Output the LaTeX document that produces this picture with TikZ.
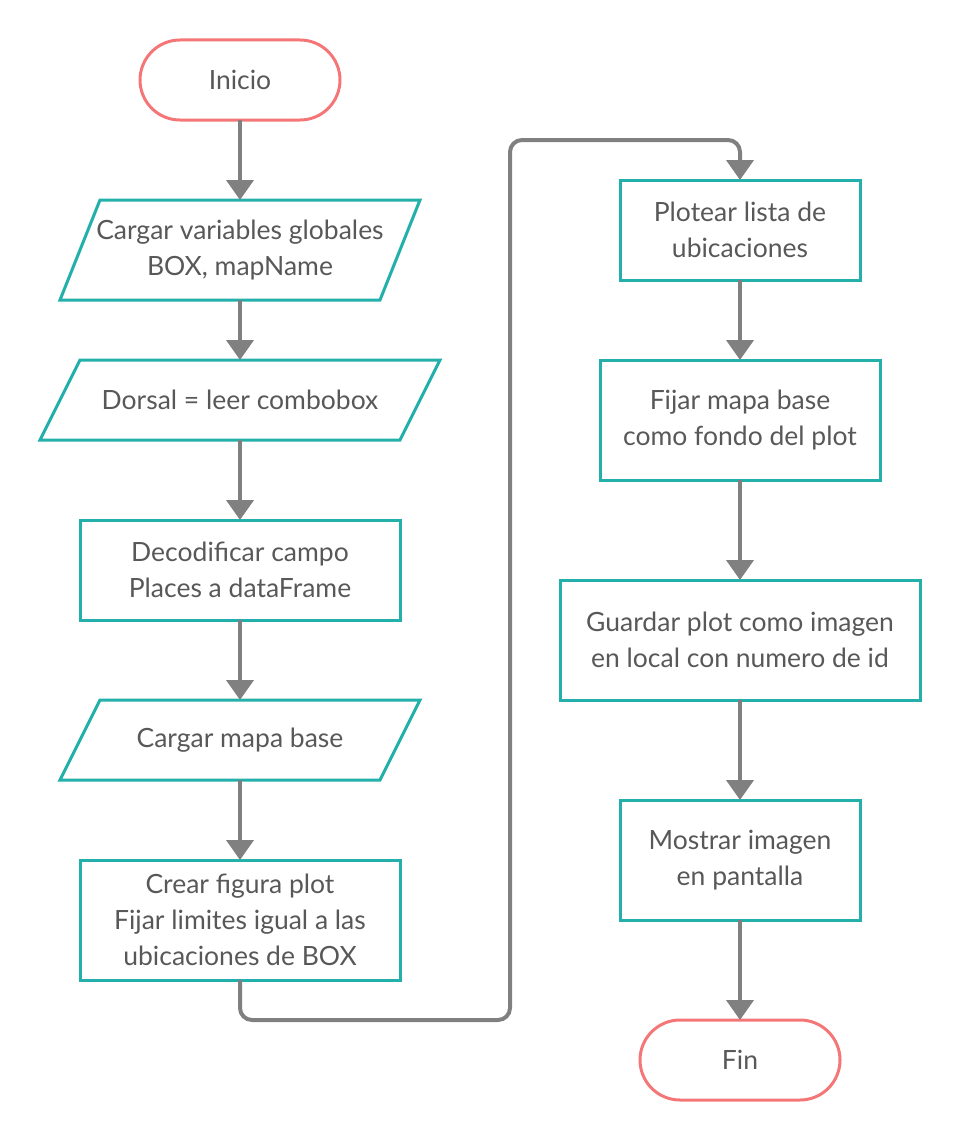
\documentclass[tikz,border=0pt]{standalone}
\usepackage{fontspec}
\setmainfont{Lato}
\usetikzlibrary{arrows.meta}
\definecolor{teal2}{RGB}{35,176,170}
\definecolor{salmon}{RGB}{244,118,118}
\definecolor{conn}{RGB}{128,128,128}
\definecolor{txt}{RGB}{88,88,88}
\begin{document}
\begin{tikzpicture}[x=1pt,y=-1pt,
  base/.style={inner sep=0pt,outer sep=0pt,align=center,text=txt,
    font=\fontsize{26.5}{36}\selectfont},
  term/.style={base,draw=salmon,line width=3pt,rounded corners=40pt,
    minimum width=200pt,minimum height=80pt},
  proc/.style={base,draw=teal2,line width=3pt,minimum height=#1},
  io/.style={base,minimum height=#1},
  pgram/.style={draw=teal2,line width=3pt,line join=miter},
  arrow/.style={draw=conn,line width=4pt,-{Triangle[width=27pt,length=20pt]}},
]
\useasboundingbox (0,0) rectangle (960,1140);
% left column
\node[term] (inicio) at (240,80) {Inicio};
\node[io=100pt,minimum width=320pt] (cv) at (240,250) {Cargar variables globales\\BOX, mapName};
\draw[pgram] ([xshift=20pt]cv.north west) -- ([xshift=20pt]cv.north east) -- ([xshift=-20pt]cv.south east) -- ([xshift=-20pt]cv.south west) -- cycle;
\node[io=80pt,minimum width=360pt] (dorsal) at (240,400) {Dorsal = leer combobox};
\draw[pgram] ([xshift=20pt]dorsal.north west) -- ([xshift=20pt]dorsal.north east) -- ([xshift=-20pt]dorsal.south east) -- ([xshift=-20pt]dorsal.south west) -- cycle;
\node[proc=100pt,minimum width=320pt] (deco) at (240,570) {Decodificar campo\\Places a dataFrame};
\node[io=80pt,minimum width=320pt] (mapa) at (240,740) {Cargar mapa base};
\draw[pgram] ([xshift=20pt]mapa.north west) -- ([xshift=20pt]mapa.north east) -- ([xshift=-20pt]mapa.south east) -- ([xshift=-20pt]mapa.south west) -- cycle;
\node[proc=120pt,minimum width=320pt] (crear) at (240,920) {Crear figura plot\\Fijar limites igual a las\\ubicaciones de BOX};
% right column
\node[proc=100pt,minimum width=240pt] (plotear) at (740,230) {Plotear lista de\\ubicaciones};
\node[proc=120pt,minimum width=280pt] (fijar) at (740,420) {Fijar mapa base\\como fondo del plot};
\node[proc=120pt,minimum width=360pt] (guardar) at (740,640) {Guardar plot como imagen\\en local con numero de id};
\node[proc=120pt,minimum width=240pt] (mostrar) at (740,860) {Mostrar imagen\\en pantalla};
\node[term] (fin) at (740,1060) {Fin};
\coordinate (c1) at (510,1020);
\coordinate (c2) at (510,140);
% connectors
\draw[arrow] (inicio.south) -- (cv.north);
\draw[arrow] (cv.south) -- (dorsal.north);
\draw[arrow] (dorsal.south) -- (deco.north);
\draw[arrow] (deco.south) -- (mapa.north);
\draw[arrow] (mapa.south) -- (crear.north);
\draw[arrow,rounded corners=12pt] (crear.south) |- (c1) -- (c2) -| (plotear.north);
\draw[arrow] (plotear.south) -- (fijar.north);
\draw[arrow] (fijar.south) -- (guardar.north);
\draw[arrow] (guardar.south) -- (mostrar.north);
\draw[arrow] (mostrar.south) -- (fin.north);
\end{tikzpicture}
\end{document}
